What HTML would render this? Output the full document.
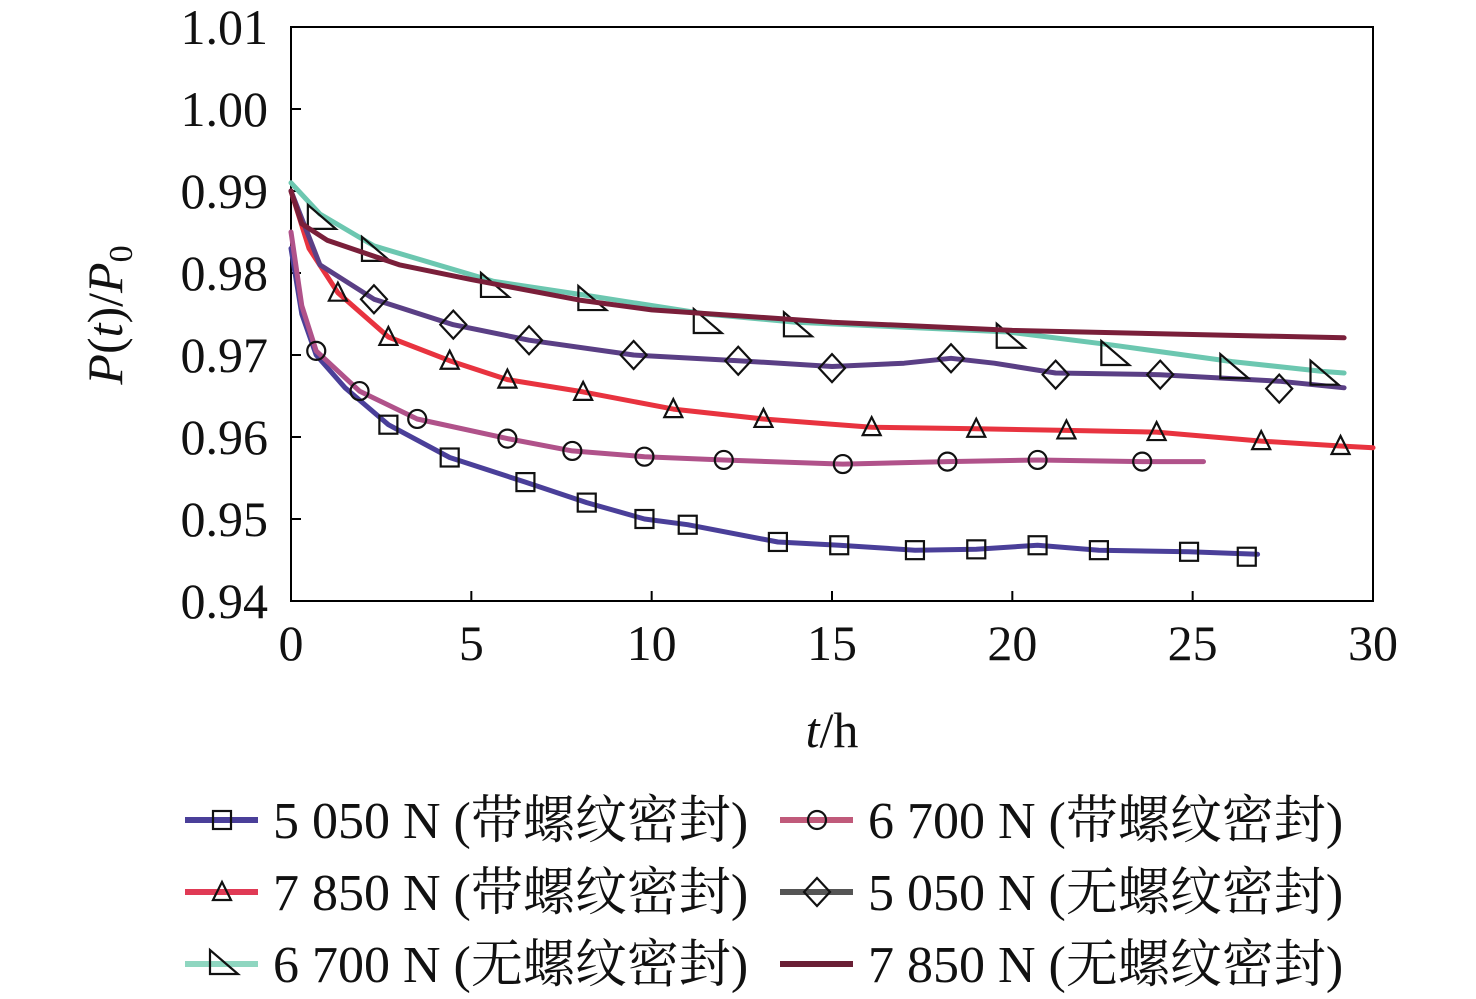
<!DOCTYPE html>
<html><head><meta charset="utf-8"><style>
body{margin:0;background:#fff;}
svg{display:block;font-family:"Liberation Serif","Noto Serif CJK SC",serif;}
</style></head><body>
<svg id="c" width="1476" height="999" viewBox="0 0 1476 999"></svg>
<script>
const xTicks=[0,5,10,15,20,25,30];
const yTicks=[0.94,0.95,0.96,0.97,0.98,0.99,1.00,1.01];
const yTickLabels=["0.94","0.95","0.96","0.97","0.98","0.99","1.00","1.01"];
const seriesNames=["5 050 N (带螺纹密封)","6 700 N (带螺纹密封)","7 850 N (带螺纹密封)","5 050 N (无螺纹密封)","6 700 N (无螺纹密封)","7 850 N (无螺纹密封)"];
const s1t=[0,0.3,0.7,1.5,2.7,4.4,6.5,8.2,9.8,11,13.5,15.2,17.3,19,20.7,22.4,24.9,26.8];
const s1v=[0.983,0.975,0.970,0.966,0.9615,0.9575,0.9545,0.952,0.950,0.9493,0.9472,0.9468,0.9462,0.9463,0.9468,0.9462,0.946,0.9457];
const s1m=[2.7,4.4,6.5,8.2,9.8,11,13.5,15.2,17.3,19,20.7,22.4,24.9,26.5];
const s1mv=[0.9615,0.9575,0.9545,0.952,0.950,0.9493,0.9472,0.9468,0.9462,0.9463,0.9468,0.9462,0.946,0.9454];
const s2t=[0,0.3,0.7,1.9,3.5,6,7.8,9.8,12,15.3,18.2,20.7,23.6,25.3];
const s2v=[0.985,0.976,0.9705,0.9656,0.9622,0.9598,0.9583,0.9576,0.9572,0.9567,0.957,0.9572,0.957,0.957];
const s2m=[0.7,1.9,3.5,6,7.8,9.8,12,15.3,18.2,20.7,23.6];
const s2mv=[0.9705,0.9656,0.9622,0.9598,0.9583,0.9576,0.9572,0.9567,0.957,0.9572,0.957];
const s3t=[0,0.5,1.3,2.7,4.4,6,8.1,10.6,13.1,16.1,19,21.5,24,26.9,29.1,30];
const s3v=[0.99,0.983,0.9776,0.9722,0.9693,0.967,0.9655,0.9634,0.9622,0.9612,0.961,0.9608,0.9606,0.9595,0.9589,0.9587];
const s3m=[1.3,2.7,4.4,6,8.1,10.6,13.1,16.1,19,21.5,24,26.9,29.1];
const s3mv=[0.9776,0.9722,0.9693,0.967,0.9655,0.9634,0.9622,0.9612,0.961,0.9608,0.9606,0.9595,0.9589];
const s4t=[0,0.8,2.3,4.5,6.6,9.5,12.4,15,17,18.3,19.5,21.2,24.1,27.4,29.2];
const s4v=[0.99,0.981,0.9768,0.9737,0.9718,0.970,0.9693,0.9686,0.969,0.9696,0.969,0.9678,0.9676,0.9668,0.966];
const s4m=[2.3,4.5,6.6,9.5,12.4,15,18.3,21.2,24.1,27.4];
const s4mv=[0.9768,0.9737,0.9718,0.970,0.9693,0.9684,0.9696,0.9676,0.9676,0.9659];
const s5t=[0,0.8,2.3,5.6,8.3,11.5,14,19.9,22.8,26.1,28.6,29.2];
const s5v=[0.991,0.9872,0.9833,0.979,0.9772,0.975,0.974,0.9728,0.9712,0.9692,0.968,0.9678];
const s5m=[0.8,2.3,5.6,8.3,11.5,14,19.9,22.8,26.1,28.6];
const s5mv=[0.9866,0.9827,0.9783,0.9767,0.9739,0.9735,0.9721,0.970,0.9684,0.9676];
const s6t=[0,0.3,1,3,5,8,10,15,20,25,29.2];
const s6v=[0.99,0.986,0.984,0.981,0.9792,0.9767,0.9755,0.974,0.973,0.9725,0.9721];

const X=t=>291+t*(1373-291)/30;
const Y=v=>109+(1.00-v)*8200;
const svg=document.getElementById('c');
const NS='http://www.w3.org/2000/svg';
function mk(tag,attrs,parent){const e=document.createElementNS(NS,tag);for(const k in attrs)e.setAttribute(k,attrs[k]);(parent||svg).appendChild(e);return e;}

const frame=mk('rect',{x:291,y:27,width:1082,height:574,fill:'none',stroke:'#000','stroke-width':2});


yTicks.forEach((v,i)=>{
  const l=mk('line',{x1:291,x2:301,y1:Y(v),y2:Y(v),stroke:'#000','stroke-width':2});
  
  
  const t=mk('text',{x:268,y:Y(v)+17,'text-anchor':'end','font-size':50,fill:'#111'});
  t.textContent=yTickLabels[i];
  
  
});
xTicks.forEach(v=>{
  const l=mk('line',{x1:X(v),x2:X(v),y1:601,y2:591,stroke:'#000','stroke-width':2});
  
  
  const t=mk('text',{x:X(v),y:660,'text-anchor':'middle','font-size':50,fill:'#111'});
  t.textContent=String(v);
  
  
});
const xt=mk('text',{x:832,y:747,'text-anchor':'middle','font-size':50,fill:'#111'});
xt.innerHTML='<tspan font-style="italic">t</tspan>/h';


const yt=mk('text',{x:0,y:0,'text-anchor':'middle','font-size':50,fill:'#111',transform:'translate(122,315) rotate(-90)'});
yt.innerHTML='<tspan font-style="italic">P</tspan>(<tspan font-style="italic">t</tspan>)/<tspan font-style="italic">P</tspan><tspan font-size="34" dy="10">0</tspan>';



function marker(type,cx,cy,g){
  let e;
  const st={fill:'none',stroke:'#111','stroke-width':2.2};
  if(type==='square') e=mk('rect',Object.assign({x:cx-9,y:cy-9,width:18,height:18},st),g);
  else if(type==='circle') e=mk('circle',Object.assign({cx:cx,cy:cy,r:9},st),g);
  else if(type==='tri') e=mk('polygon',Object.assign({points:`${cx},${cy-10} ${cx-9},${cy+8} ${cx+9},${cy+8}`},st),g);
  else if(type==='diamond') e=mk('polygon',Object.assign({points:`${cx},${cy-14} ${cx+13},${cy} ${cx},${cy+14} ${cx-13},${cy}`},st),g);
  else if(type==='rtri') e=mk('polygon',Object.assign({points:`${cx-12},${cy-14} ${cx-12},${cy+10} ${cx+16},${cy+10}`},st),g);
  if(e){}
}
const series=[
 {t:s1t,v:s1v,mt:s1m,mv:s1mv,c:'#4a3f99',m:'square',n:'series-5050-thread'},
 {t:s2t,v:s2v,mt:s2m,mv:s2mv,c:'#b0528a',m:'circle',n:'series-6700-thread'},
 {t:s3t,v:s3v,mt:s3m,mv:s3mv,c:'#e8333f',m:'tri',n:'series-7850-thread'},
 {t:s4t,v:s4v,mt:s4m,mv:s4mv,c:'#5a3f85',m:'diamond',n:'series-5050-nothread'},
 {t:s5t,v:s5v,mt:s5m,mv:s5mv,c:'#6cc7b0',m:'rtri',n:'series-6700-nothread'},
 {t:s6t,v:s6v,mt:[],mv:[],c:'#7a1f3a',m:'none',n:'series-7850-nothread'}
];
series.forEach(s=>{
  const g=mk('g',{});
  
  
  const d=s.t.map((t,i)=>(i?'L':'M')+X(t).toFixed(1)+','+Y(s.v[i]).toFixed(1)).join(' ');
  const p=mk('path',{d:d,fill:'none',stroke:s.c,'stroke-width':5,'stroke-linejoin':'round','stroke-linecap':'round'},g);
  
  
  s.mt.forEach((t,i)=>marker(s.m,X(t),Y(s.mv[i]),g));
});
const leg=mk('g',{});


const legColors=['#4a3f99','#c05a7a','#e03a55','#555','#8fd6c0','#6a1f35'];
const legMarks=['square','circle','tri','diamond','rtri','none'];
seriesNames.forEach((nm,i)=>{
  const col=i%2, row=Math.floor(i/2);
  const lx=col?780:185, ty=820+row*72;
  const ge=mk('g',{},leg);
  
  
  mk('line',{x1:lx,x2:lx+73,y1:ty,y2:ty,stroke:legColors[i],'stroke-width':6},ge);
  marker(legMarks[i],lx+37,ty,ge);
  const tx=mk('text',{x:lx+88,y:ty+18,'font-size':52,fill:'#111'},ge);
  tx.textContent=nm;
  
  
});
</script>
</body></html>
